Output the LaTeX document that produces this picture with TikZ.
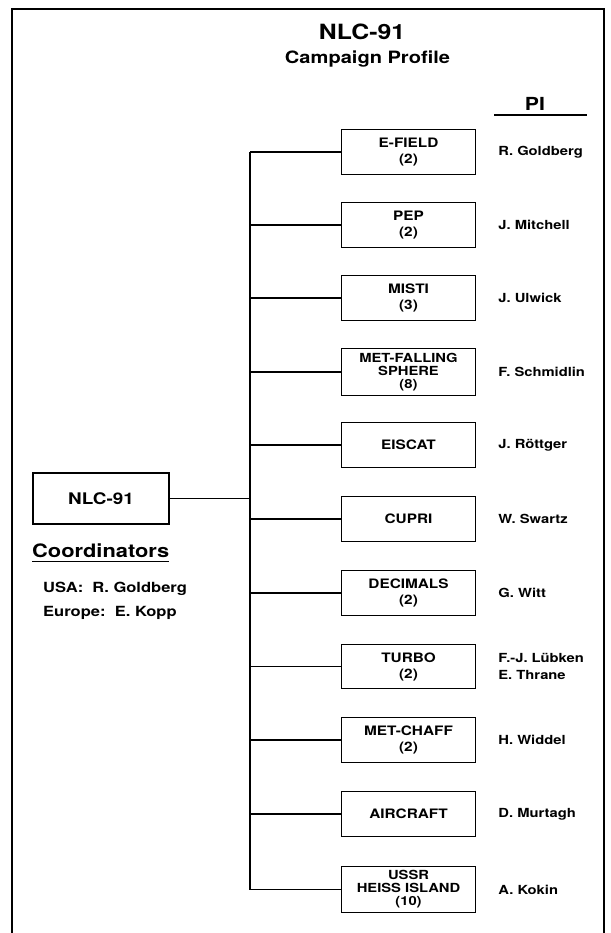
\documentclass[tikz,border=0pt]{standalone}
\usepackage{fontspec}
\setmainfont[FakeStretch=1.18]{TeX Gyre Heros}
\usetikzlibrary{positioning}
\tikzset{
  expbox/.style={draw,line width=1.4pt,minimum width=134pt,minimum height=44.5pt,
    inner sep=1pt,align=center,font=\bfseries\fontsize{13}{16}\selectfont},
  tightbox/.style={expbox,minimum height=46.5pt,font=\bfseries\fontsize{12.5}{13}\selectfont},
  piname/.style={inner sep=0pt,align=left,font=\bfseries\fontsize{12.5}{16.3}\selectfont},
  link/.style={line width=1.4pt},
}

\begin{document}
\begin{tikzpicture}[x=1pt,y=-1pt]
    \useasboundingbox (0,0) rectangle (610,933);
    % Frame (open at the bottom)
    \draw[link] (12,933) -- (12,9) -- (604,9) -- (604,933);

    % Heading
    \node[anchor=base,font=\bfseries\fontsize{21}{24}\selectfont] (title) at (362,39.3) {NLC-91};
    \node[anchor=base,font=\bfseries\fontsize{17}{20}\selectfont] (subtitle) at (367.5,64) {Campaign Profile};
    \node[anchor=base,font=\bfseries\fontsize{18}{20}\selectfont] (pihead) at (535,111) {PI};
    \draw[link] (494,115) -- (587,115);

    % Campaign box and coordinators
    \node[expbox,minimum width=136pt,minimum height=51pt,font=\bfseries\fontsize{16}{18}\selectfont] (nlc) at (101,498.5) {NLC-91};
    \node[inner sep=0pt,anchor=base west,font=\bfseries\fontsize{18.5}{20}\selectfont] (coord) at (32,557) {Coordinators};
    \draw[link] ([yshift=-4.5pt]coord.base west) -- ([yshift=-4.5pt]coord.base east);
    \node[inner sep=0pt,anchor=base west,font=\bfseries\fontsize{14}{16}\selectfont] (usa) at (43,592) {USA:\ \ R. Goldberg};
    \node[inner sep=0pt,anchor=base west,font=\bfseries\fontsize{14}{16}\selectfont] (europe) at (43,616) {Europe:\ \ E. Kopp};

    % Experiments
    \node[expbox] (efield) at (408.5,152) {E-FIELD\\(2)};
    \node[expbox] (pep) at (408.5,225) {PEP\\(2)};
    \node[expbox] (misti) at (408.5,298) {MISTI\\(3)};
    \node[tightbox] (falling) at (408.5,372) {MET-FALLING\\SPHERE\\(8)};
    \node[expbox] (eiscat) at (408.5,445) {EISCAT};
    \node[expbox] (cupri) at (408.5,519) {CUPRI};
    \node[expbox] (decimals) at (408.5,593) {DECIMALS\\(2)};
    \node[expbox] (turbo) at (408.5,666.5) {TURBO\\(2)};
    \node[expbox] (chaff) at (408.5,740) {MET-CHAFF\\(2)};
    \node[expbox] (aircraft) at (408.5,814) {AIRCRAFT};
    \node[tightbox] (ussr) at (408.5,889.5) {USSR\\HEISS ISLAND\\(10)};

    % Principal investigators
    \node[piname,right=22pt of efield] (goldberg) {R. Goldberg};
    \node[piname,right=22pt of pep] (mitchell) {J. Mitchell};
    \node[piname,right=22pt of misti] (ulwick) {J. Ulwick};
    \node[piname,right=22pt of falling] (schmidlin) {F. Schmidlin};
    \node[piname,right=22pt of eiscat] (roettger) {J. Röttger};
    \node[piname,right=22pt of cupri] (swartz) {W. Swartz};
    \node[piname,right=22pt of decimals] (witt) {G. Witt};
    \node[piname,right=22pt of turbo] (luebken) {F.-J. Lübken\\E. Thrane};
    \node[piname,right=22pt of chaff] (widdel) {H. Widdel};
    \node[piname,right=22pt of aircraft] (murtagh) {D. Murtagh};
    \node[piname,right=22pt of ussr] (kokin) {A. Kokin};

    % Tree
    \coordinate (trunk) at (250,500);
    \draw[link] (efield.west -| trunk) -- (ussr.west -| trunk);
    \draw[link] (nlc.east) -- (nlc.east -| trunk);
    \draw[link] (efield.west -| trunk) -- (efield.west);
    \draw[link] (pep.west -| trunk) -- (pep.west);
    \draw[link] (misti.west -| trunk) -- (misti.west);
    \draw[link] (falling.west -| trunk) -- (falling.west);
    \draw[link] (eiscat.west -| trunk) -- (eiscat.west);
    \draw[link] (cupri.west -| trunk) -- (cupri.west);
    \draw[link] (decimals.west -| trunk) -- (decimals.west);
    \draw[link] (turbo.west -| trunk) -- (turbo.west);
    \draw[link] (chaff.west -| trunk) -- (chaff.west);
    \draw[link] (aircraft.west -| trunk) -- (aircraft.west);
    \draw[link] (ussr.west -| trunk) -- (ussr.west);
\end{tikzpicture}
\end{document}
